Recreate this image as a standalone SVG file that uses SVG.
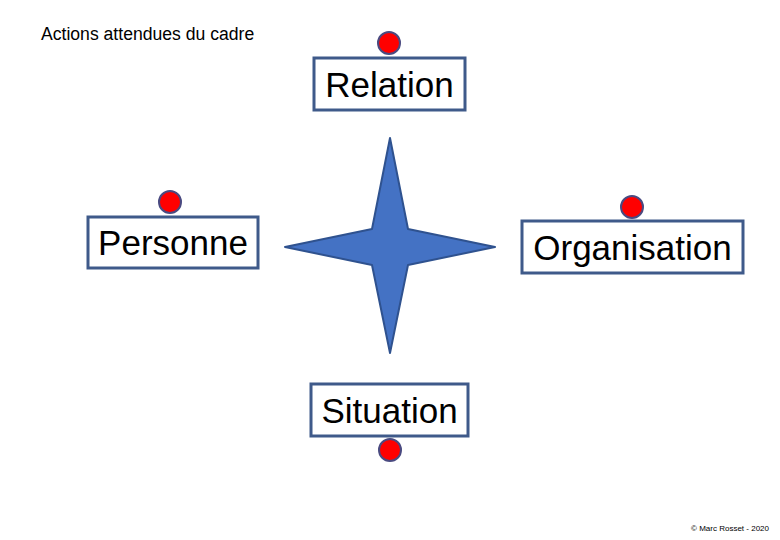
<svg xmlns="http://www.w3.org/2000/svg" width="780" height="540" viewBox="0 0 780 540">
<style>
.box{fill:#ffffff;stroke:#3f5a8a;stroke-width:3}
.dot{fill:#ff0000;stroke:#4a4a80;stroke-width:2}
.lbl{font-family:"Liberation Sans",Arial,sans-serif;font-size:35px;fill:#000;text-anchor:middle}
.star{fill:#4472c4;stroke:#2f528f;stroke-width:2;stroke-linejoin:round}
</style>
<rect width="780" height="540" fill="#ffffff"/>
<text x="41" y="40" font-family="Liberation Sans, Arial, sans-serif" font-size="17.6" fill="#000">Actions attendues du cadre</text>
<g id="connectors"></g>
<g id="star">
<polygon class="star" points="390,138 408,229 495,247 408,265 390,353 372,265 285,247 372,229"/>
</g>
<g id="relation">
<rect class="box" x="314" y="58" width="151" height="52"/>
<text class="lbl" x="389.5" y="97">Relation</text>
<circle class="dot" cx="389" cy="43" r="11"/>
</g>
<g id="personne">
<rect class="box" x="88" y="217" width="170" height="51"/>
<text class="lbl" x="173" y="255">Personne</text>
<circle class="dot" cx="170" cy="202" r="11"/>
</g>
<g id="organisation">
<rect class="box" x="522" y="221" width="221" height="52"/>
<text class="lbl" x="632.5" y="260">Organisation</text>
<circle class="dot" cx="632" cy="207" r="11"/>
</g>
<g id="situation">
<rect class="box" x="311" y="384" width="157" height="52"/>
<text class="lbl" x="389.5" y="423">Situation</text>
<circle class="dot" cx="390" cy="450" r="11"/>
</g>
<text x="769" y="531" font-family="Liberation Sans, Arial, sans-serif" font-size="8" fill="#000" text-anchor="end">© Marc Rosset - 2020</text>
</svg>
